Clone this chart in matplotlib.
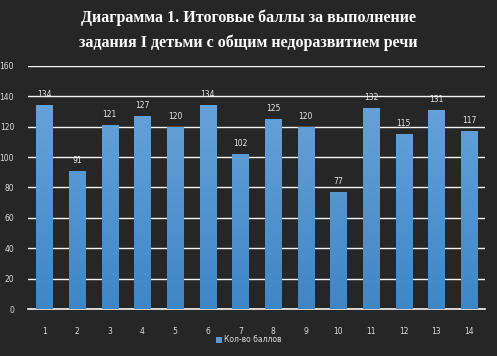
import matplotlib
matplotlib.use("Agg")
import matplotlib.pyplot as plt
import numpy as np
from matplotlib.colors import LinearSegmentedColormap
from matplotlib.patches import Patch

children = [str(i) for i in range(1, 15)]
scores = [134, 91, 121, 127, 120, 134, 102, 125, 120, 77, 132, 115, 131, 117]
yticks = [0, 20, 40, 60, 80, 100, 120, 140, 160]
title1 = "Диаграмма 1. Итоговые баллы за выполнение"
title2 = "задания I детьми с общим недоразвитием речи"
legend_label = "Кол-во баллов"

BG = "#262626"

fig = plt.figure(figsize=(4.97, 3.56), dpi=100, facecolor=BG)
ax = fig.add_axes([0.0563, 0.132, 0.92, 0.683], facecolor=BG)

x = np.arange(len(scores))
bars = ax.bar(x, scores, width=0.49, color="#5b9bd5", zorder=3,
              label=legend_label)

# vertical gradient inside each bar
cmap = LinearSegmentedColormap.from_list("blues", ["#3f86c6", "#6ea7dc"])
grad = np.linspace(0, 1, 256).reshape(-1, 1)
for b in bars:
    x0, w, h = b.get_x(), b.get_width(), b.get_height()
    im = ax.imshow(grad, cmap=cmap, aspect="auto", origin="lower",
                   extent=[x0, x0 + w, 0, 160], zorder=3)
    im.set_clip_path(b)
    b.set_facecolor("none")
    ax.text(x0 + w / 2, h + 4, str(int(h)), ha="center", va="bottom",
            color="#e8e8e8", fontsize=5.5, zorder=4)

ax.set_xlim(-0.5, len(scores) - 0.5)
ax.set_ylim(0, 160)
ax.set_yticks(yticks)
ax.set_xticks(x)
ax.set_xticklabels(children)
ax.yaxis.grid(True, color="#f4f4f4", linewidth=1.0, zorder=0)
ax.set_axisbelow(True)
for s in ["left", "right", "top"]:
    ax.spines[s].set_visible(False)
ax.spines["bottom"].set_color("#f4f4f4")
ax.spines["bottom"].set_linewidth(1.2)
ax.tick_params(axis="both", length=0, colors="#dddddd", labelsize=5.5)
ax.tick_params(axis="y", pad=10)
ax.tick_params(axis="x", pad=13)

fig.text(0.5, 0.95, title1, ha="center", va="center", color="white",
         fontsize=11.5, fontweight="bold", family="Liberation Serif")
fig.text(0.5, 0.88, title2, ha="center", va="center", color="white",
         fontsize=11.5, fontweight="bold", family="Liberation Serif")

leg = fig.legend(handles=[Patch(facecolor="#5b9bd5", label=legend_label)],
                 loc="center", bbox_to_anchor=(0.5, 0.045), frameon=False,
                 fontsize=5.5, handlelength=0.8, handleheight=0.8,
                 handletextpad=0.3)
for t in leg.get_texts():
    t.set_color("#dddddd")

fig.savefig("out.png", dpi=100, facecolor=BG)
